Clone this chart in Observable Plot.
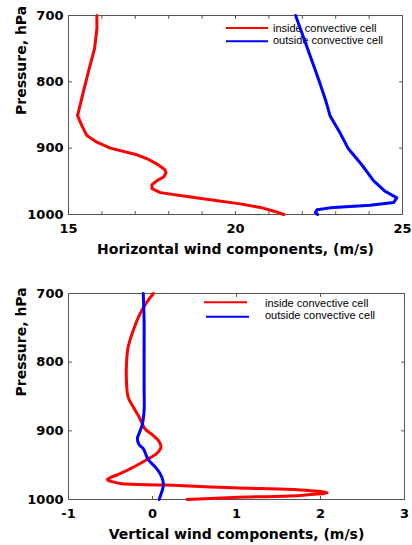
<!DOCTYPE html>
<html>
<head>
<meta charset="utf-8">
<script src="https://cdn.jsdelivr.net/npm/d3@7"></script>
<script src="https://cdn.jsdelivr.net/npm/@observablehq/plot@0.6"></script>
<style>
  html, body { margin: 0; padding: 0; background: #fff; }
  #page { position: relative; width: 412px; height: 545px; overflow: hidden; background: #fff; }
  .panel { position: absolute; left: 0; z-index: 1; }
  .legend { position: absolute; left: 0; top: 0; z-index: 0; }
</style>
</head>
<body>
<div id="page"></div>
<script>
// Series names and colours
const seriesNames = ["inside convective cell", "outside convective cell"];
const seriesColors = ["#ff0000", "#0000ff"];

// Horizontal wind profile, inside the cell (pressure hPa, speed m/s)
const hInsideP = [700, 720, 750, 780, 810, 851, 866, 881, 891, 900, 910, 917, 924, 932, 937, 943, 949, 955, 961, 967, 973, 978, 984, 990, 995, 1000];
const hInsideU = [15.85, 15.85, 15.78, 15.62, 15.47, 15.27, 15.4, 15.55, 15.85, 16.25, 17.05, 17.4, 17.65, 17.88, 17.92, 17.86, 17.65, 17.5, 17.5, 17.75, 18.55, 19.3, 20.14, 20.8, 21.15, 21.45];

// Horizontal wind profile, outside the cell
const hOutsideP = [700, 728, 763, 798, 828, 851, 876, 901, 925, 949, 965, 975, 982, 986, 990, 993, 997, 1000];
const hOutsideU = [21.8, 22.0, 22.25, 22.5, 22.7, 22.83, 23.12, 23.38, 23.78, 24.13, 24.48, 24.83, 24.73, 24.03, 22.83, 22.44, 22.39, 22.46];

// Vertical wind profile, inside the cell
const vInsideP = [700, 713, 730, 754, 778, 803, 827, 851, 865, 882, 897, 907, 916, 924, 933, 942, 953, 962, 971, 974, 977, 979, 983, 986, 990, 994, 997, 1000];
const vInsideW = [0.01, -0.07, -0.15, -0.23, -0.29, -0.31, -0.31, -0.29, -0.23, -0.15, -0.09, 0.01, 0.08, 0.1, 0.05, -0.07, -0.23, -0.38, -0.54, -0.48, -0.37, 0.17, 0.96, 1.76, 2.08, 1.76, 0.96, 0.41];

// Vertical wind profile, outside the cell
const vOutsideP = [700, 740, 788, 836, 870, 890, 904, 911, 920, 926, 942, 955, 967, 979, 989, 1000];
const vOutsideW = [-0.11, -0.1, -0.1, -0.1, -0.1, -0.12, -0.16, -0.18, -0.16, -0.11, -0.05, 0.05, 0.11, 0.13, 0.11, 0.08];

// Axis ticks and titles
const pressureTicks = [700, 800, 900, 1000];
const hTickLabels = [15, 20, 25];
const hMinorTicks = [15, 16, 17, 18, 19, 20, 21, 22, 23, 24, 25];
const vTickLabels = [-1, 0, 1, 2, 3];
const yTitle = "Pressure, hPa";
const hTitle = "Horizontal wind components, (m/s)";
const vTitle = "Vertical wind components, (m/s)";

const boldFont = "DejaVu Sans";
const frameColor = "#555";
const plainNumber = (d) => d < 0 ? "-" + Math.abs(d) : String(d);

// a straight tick drawn from its anchor point in the vector's direction
const tickShape = {draw(context, l) { context.moveTo(0, 0); context.lineTo(0, -l); }};

function rows(P, X) { return P.map((p, i) => ({p, x: X[i]})); }

function profilePanel({xDomain, tickLabels, minorTicks, title, series, height, margins, curve}) {
  const [x0, x1] = xDomain;
  const tick = {length: 3, anchor: "start", shape: tickShape, stroke: frameColor, strokeWidth: 1};
  return Plot.plot({
    width: 412,
    height,
    ...margins,
    style: {background: "transparent", fontFamily: boldFont, fontWeight: "bold", fontSize: "13px", color: "#000", overflow: "visible"},
    x: {domain: xDomain},
    y: {domain: [700, 1000], reverse: true},
    marks: [
      Plot.frame({stroke: frameColor, strokeWidth: 1}),
      // inward ticks on all four sides
      Plot.vector(minorTicks, {x: (d) => d, y: 1000, rotate: 0, ...tick}),
      Plot.vector(minorTicks, {x: (d) => d, y: 700, rotate: 180, ...tick}),
      Plot.vector(pressureTicks, {x: x0, y: (d) => d, rotate: 90, ...tick}),
      Plot.vector(pressureTicks, {x: x1, y: (d) => d, rotate: 270, ...tick}),
      // tick labels
      Plot.axisX(tickLabels, {anchor: "bottom", tickSize: 0, tickPadding: 9, label: null, fontSize: 13, fill: "#000", tickFormat: plainNumber}),
      Plot.axisY(pressureTicks, {anchor: "left", tickSize: 0, tickPadding: 5, label: null, fontSize: 13, fill: "#000", tickFormat: plainNumber}),
      // axis titles
      Plot.text([title], {frameAnchor: "bottom", dy: 39, lineAnchor: "bottom", fontSize: 14, fill: "#000"}),
      Plot.text([yTitle], {frameAnchor: "left", rotate: -90, dx: -52, lineAnchor: "top", fontSize: 14, fill: "#000"}),
      // profiles
      ...series.map((s, i) => Plot.line(s, {x: "x", y: "p", stroke: seriesColors[i], strokeWidth: 3, curve}))
    ]
  });
}

const page = document.getElementById("page");

const topPanel = profilePanel({
  xDomain: [15, 25],
  tickLabels: hTickLabels,
  minorTicks: hMinorTicks,
  title: hTitle,
  series: [rows(hInsideP, hInsideU), rows(hOutsideP, hOutsideU)],
  height: 262,
  margins: {marginTop: 15, marginBottom: 48, marginLeft: 68, marginRight: 10},
  curve: "linear"
});
topPanel.classList.add("panel");
topPanel.style.top = "0px";
page.appendChild(topPanel);

const bottomPanel = profilePanel({
  xDomain: [-1, 3],
  tickLabels: vTickLabels,
  minorTicks: vTickLabels,
  title: vTitle,
  series: [rows(vInsideP, vInsideW), rows(vOutsideP, vOutsideW)],
  height: 283,
  margins: {marginTop: 31, marginBottom: 46, marginLeft: 68, marginRight: 8},
  curve: "catmull-rom"
});
bottomPanel.classList.add("panel");
bottomPanel.style.top = "262px";
page.appendChild(bottomPanel);

// Legends, drawn beneath the profile lines
const legendSpecs = [
  {lines: [[226, 268, 28], [226, 268, 41.3]], textX: 273, textY: [31.7, 44.3]},
  {lines: [[204, 247, 302.3], [206, 249, 316.7]], textX: 265, textY: [306.7, 319]}
];
const legend = d3.create("svg")
  .attr("class", "legend")
  .attr("width", 412)
  .attr("height", 545);
for (const spec of legendSpecs) {
  seriesNames.forEach((name, i) => {
    const [x1, x2, y] = spec.lines[i];
    legend.append("line")
      .attr("x1", x1).attr("x2", x2).attr("y1", y).attr("y2", y)
      .attr("stroke", seriesColors[i]).attr("stroke-width", 2);
    legend.append("text")
      .attr("x", spec.textX).attr("y", spec.textY[i])
      .attr("font-family", "Liberation Sans, Arial, sans-serif")
      .attr("font-size", 11)
      .attr("fill", "#000")
      .text(name);
  });
}
page.appendChild(legend.node());
</script>
</body>
</html>
